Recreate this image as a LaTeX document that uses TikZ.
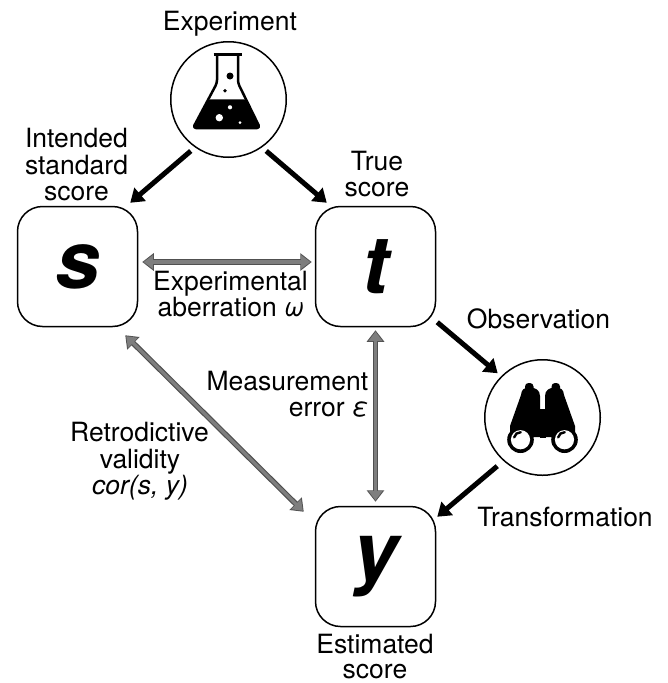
\documentclass[tikz,border=0pt]{standalone}
\usepackage{fontspec}
\setmainfont{TeX Gyre Heros}
\usetikzlibrary{arrows.meta}
\definecolor{arrgray}{HTML}{7E7E7E}
\definecolor{arrdark}{HTML}{505050}
\begin{document}
\begin{tikzpicture}[x=1pt,y=-1pt,
  box/.style={draw, line width=1.5pt, rounded corners=25pt, minimum width=120pt, minimum height=120pt, inner sep=0pt, font=\fontsize{80}{80}\selectfont\bfseries\itshape},
  iconc/.style={draw, circle, line width=1.5pt, minimum size=115.5pt, inner sep=0pt},
  lbl/.style={inner sep=0pt, anchor=base, font=\fontsize{26.5}{29}\selectfont},
  lblr/.style={lbl, anchor=base east},
  blk/.style={line width=5pt, -{Triangle[length=13pt,width=17pt]}},
  gryo/.style={draw=arrdark, line width=5.5pt, {Triangle[length=11.5pt,width=17pt]}-{Triangle[length=11.5pt,width=17pt]}},
  gryi/.style={draw=arrgray, line width=3.2pt, shorten <=1.3pt, shorten >=1.3pt, {Triangle[length=9.5pt,width=13.5pt]}-{Triangle[length=9.5pt,width=13.5pt]}},
]
\useasboundingbox (0,0) rectangle (668,683);

% boxes and icon circles
\node[box] (s) at (77.5,266.5) {s};
\node[box] (t) at (375.5,266.5) {t};
\node[box] (y) at (375.5,566.5) {y};
\node[iconc] (flask) at (228.5,99.5) {};
\node[iconc] (bino) at (542.5,417.5) {};

% flask icon
\fill[rounded corners=2.5pt] (208.3,99.3) -- (193,128) -- (260,128) -- (246.5,99.3) -- cycle;
\draw[line width=2.5pt, line join=round, rounded corners=3pt] (217,56) -- (217,83) -- (193,128) -- (260,128) -- (238,83) -- (238,56);
\draw[line width=3pt] (213.5,54.5) -- (241.5,54.5);
\fill (230,76) circle (3.5pt);
\fill (225,90.7) circle (1.8pt);
\fill[white] (230,107.3) circle (2.1pt);
\fill[white] (219.3,117.7) circle (3.7pt);
\fill[white] (240,122.7) circle (1.5pt);

% binoculars icon
\fill (539.5,409) rectangle (545.5,438);
\foreach \sx in {1,-1}{
  \begin{scope}[shift={(542.5,0)}, xscale=\sx]
    \fill (2,410) -- (-2.5,410) -- (-2.5,396) .. controls (-2.5,390) and (-7,387.5) .. (-13,387.5)
          .. controls (-19,387.5) and (-21,390) .. (-21.5,395) -- (-32.5,426) -- (-32.5,437) -- (2,437) -- cycle;
    \fill[rounded corners=3.5pt] (-17.5,392) -- (-17.5,383) -- (-9,383) -- (-9,392) -- cycle;
    \fill (-22,439.7) circle (13.3pt);
    \fill[white] (-22,439.7) circle (9.6pt);
  \end{scope}
}
\draw[line width=2.4pt, line cap=round] ([shift={(168:6.5pt)}]520.5,438.7) arc[start angle=168, end angle=88, radius=6.5pt];
\draw[line width=2.4pt, line cap=round] ([shift={(168:6.5pt)}]564.5,438.7) arc[start angle=168, end angle=88, radius=6.5pt];

% black arrows
\draw[blk, shorten <=5.5pt] (flask.235) -- ([shift={(-8,-3)}]s.north east);
\draw[blk, shorten <=5.5pt] (flask.305) -- ([shift={(12,-3)}]t.north west);
\draw[blk, shorten >=4.5pt] ([shift={(1,-5)}]t.south east) -- (bino.135);
\draw[blk, shorten <=8pt] (bino.228) -- ([shift={(1,11)}]y.north east);

% gray double arrows (outline, then fill)
\draw[gryo] ([shift={(4,-4.5)}]s.east) -- ([shift={(-3,-4.5)}]t.west);
\draw[gryi] ([shift={(4,-4.5)}]s.east) -- ([shift={(-3,-4.5)}]t.west);
\draw[gryo] ([shift={(0,3)}]t.south) -- ([shift={(0,-4)}]y.north);
\draw[gryi] ([shift={(0,3)}]t.south) -- ([shift={(0,-4)}]y.north);
\draw[gryo] ([shift={(-13,8)}]s.south east) -- ([shift={(-11,6)}]y.north west);
\draw[gryi] ([shift={(-13,8)}]s.south east) -- ([shift={(-11,6)}]y.north west);

% labels
\node[lbl] (lexp) at (230,30.5) {Experiment};
\node[lbl] (lint1) at (76.5,147.5) {Intended};
\node[lbl] (lint2) at (76.5,174) {standard};
\node[lbl] (lint3) at (76.5,200) {score};
\node[lbl] (ltru1) at (377,170) {True};
\node[lbl] (ltru2) at (377,196.7) {score};
\node[lbl] (lab1) at (230.5,290) {Experimental};
\node[lbl] (lab2) at (231,316.7) {aberration \textit{ω}};
\node[lbl] (lobs) at (538.5,328) {Observation};
\node[lblr] (lme1) at (368.5,390.5) {Measurement};
\node[lblr] (lme2) at (368.5,416.7) {error \textit{ε}};
\node[lbl] (lre1) at (139.5,441.7) {Retrodictive};
\node[lbl] (lre2) at (140,468) {validity};
\node[lbl] (lre3) at (140,494.5) {\textit{cor(s, y)}};
\node[lbl] (ltra) at (565,526.7) {Transformation};
\node[lbl] (lest1) at (375,653.3) {Estimated};
\node[lbl] (lest2) at (375,678) {score};
\end{tikzpicture}
\end{document}
